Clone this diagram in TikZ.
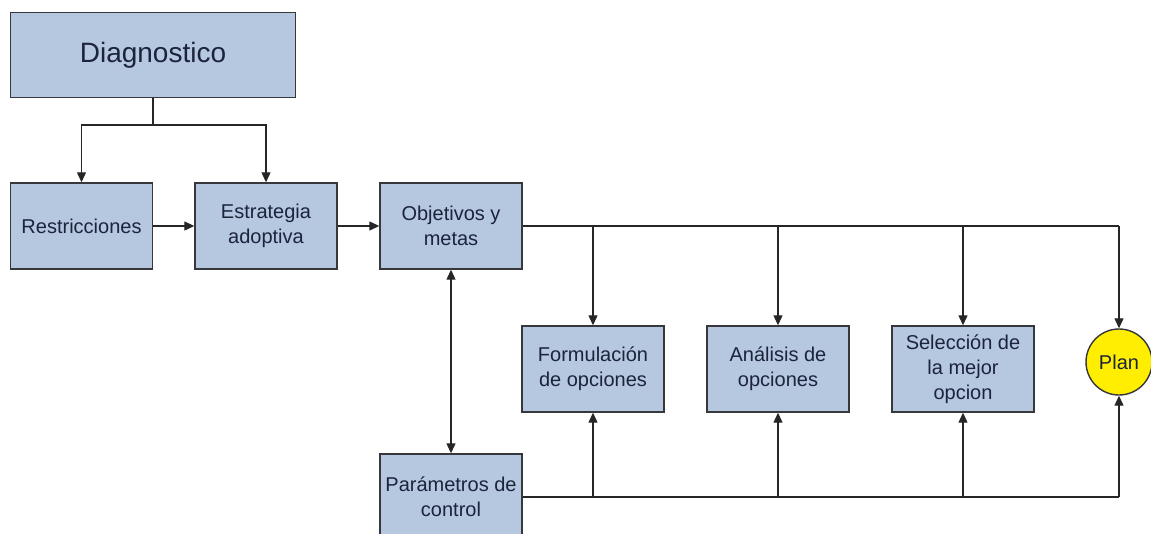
\documentclass[tikz,border=0pt]{standalone}
\usepackage{fontspec}
\setmainfont{Liberation Sans}
\usetikzlibrary{arrows.meta}
\definecolor{boxfill}{RGB}{182,199,224}
\definecolor{boxline}{RGB}{55,55,60}
\definecolor{txt}{RGB}{28,36,58}
\definecolor{planfill}{RGB}{255,238,0}
\tikzset{
  box/.style={draw=boxline, line width=1.4pt, fill=boxfill, text=txt, align=center,
    minimum width=142pt, minimum height=86pt, inner sep=2pt,
    font=\fontsize{20}{25}\selectfont},
  arr/.style={-{Triangle[length=10pt,width=9pt]}},
  link/.style={draw=black!85, line width=1.2pt}
}
\begin{document}
\begin{tikzpicture}[x=1pt,y=-1pt]
      \useasboundingbox (0,0) rectangle (1151,533);
      % boxes
      \node[box, minimum width=285pt, minimum height=85pt, font=\fontsize{28}{32}\selectfont] (diag) at (153,55) {Diagnostico};
      \node[box] (restr) at (81.5,226) {Restricciones};
      \node[box] (estr) at (266,226) {Estrategia\\adoptiva};
      \node[box] (obj) at (451,226) {Objetivos y\\metas};
      \node[box] (form) at (593,369) {Formulación\\de opciones};
      \node[box] (anal) at (778,369) {Análisis de\\opciones};
      \node[box] (sel) at (963,369) {Selección de\\la mejor\\opcion};
      \node[box] (param) at (451,497) {Parámetros de\\control};
      \node[circle, draw=boxline, line width=1.4pt, fill=planfill, text=txt, minimum size=66pt, inner sep=0pt, font=\fontsize{20}{25}\selectfont] (plan) at (1119,362) {Plan};
      % connectors
      \coordinate (split) at (153,125);
      \draw[link] (diag.south) -- (split);
      \draw[link, arr] (split) -| (restr.north);
      \draw[link, arr] (split) -| (estr.north);
      \draw[link, arr] (restr) -- (estr);
      \draw[link, arr] (estr) -- (obj);
      \draw[link, {Triangle[length=10pt,width=9pt]}-{Triangle[length=10pt,width=9pt]}] (obj.south) -- (param.north);
      \draw[link] (obj.east) -- (obj.east -| plan.north);
      \draw[link, arr] (obj.east -| form.north) -- (form.north);
      \draw[link, arr] (obj.east -| anal.north) -- (anal.north);
      \draw[link, arr] (obj.east -| sel.north) -- (sel.north);
      \draw[link, arr] (obj.east -| plan.north) -- (plan.north);
      \draw[link, line width=2pt] (param.east) -- (param.east -| anal.south);
      \draw[link] (param.east -| anal.south) -- (param.east -| plan.south);
      \draw[link, arr] (param.east -| form.south) -- (form.south);
      \draw[link, arr] (param.east -| anal.south) -- (anal.south);
      \draw[link, arr] (param.east -| sel.south) -- (sel.south);
      \draw[link, arr] (param.east -| plan.south) -- (plan.south);
\end{tikzpicture}
\end{document}
